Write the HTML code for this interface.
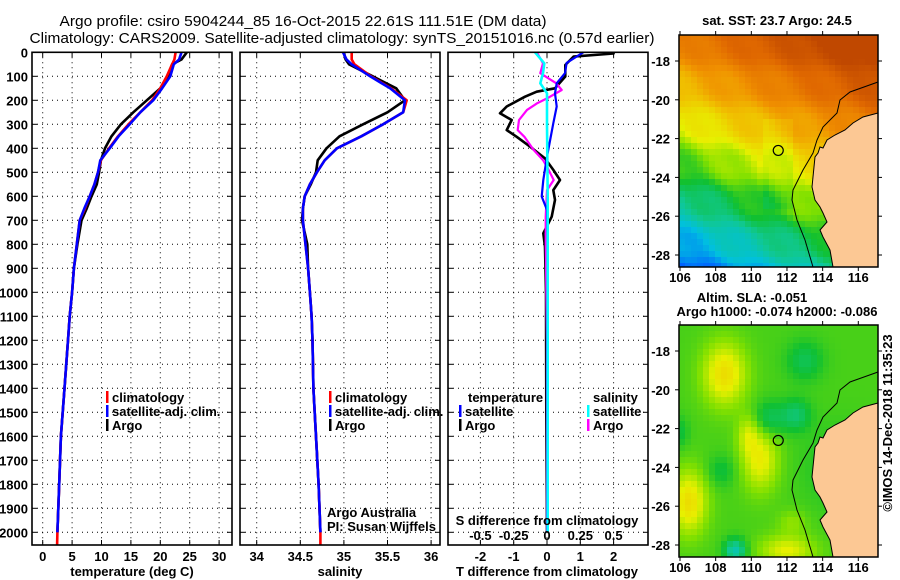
<!DOCTYPE html>
<html><head><meta charset="utf-8">
<style>
html,body{margin:0;padding:0;background:#fff;}
svg{display:block;font-family:"Liberation Sans",sans-serif;}
.t{font-weight:bold;font-size:13px;fill:#000;}
</style></head>
<body>
<svg id="fig" width="900" height="580" viewBox="0 0 900 580" xmlns="http://www.w3.org/2000/svg">
<text x="303" y="26" text-anchor="middle" font-size="15" textLength="487" lengthAdjust="spacingAndGlyphs">Argo profile: csiro 5904244_85 16-Oct-2015 22.61S 111.51E (DM data)</text>
<text x="342" y="43" text-anchor="middle" font-size="15" textLength="625" lengthAdjust="spacingAndGlyphs">Climatology: CARS2009. Satellite-adjusted climatology: synTS_20151016.nc (0.57d earlier)</text>
</svg>
<script>
// ---------- data ----------
const depthProf = [0,30,50,100,150,200,250,300,350,400,450,500,550,600,650,700,800,900,1000,1100,1200,1400,1600,1800,2000];
const climT = [22.6,22.4,22.0,21.1,20.0,18.6,16.6,14.6,12.8,11.3,9.9,9.4,8.8,8.0,7.2,6.3,5.8,5.3,5.0,4.6,4.3,3.7,3.1,2.8,2.5];
const satT  = [23.6,23.2,22.3,21.7,20.3,18.8,16.6,14.8,12.9,11.4,9.8,9.4,8.8,8.0,7.1,6.3,5.8,5.3,5.0,4.6,4.3,3.7,3.1,2.8,2.5];
const argoT = [24.5,23.6,22.0,21.3,20.0,17.7,15.4,13.3,11.7,10.6,9.9,9.6,9.2,8.3,7.5,6.6,5.9,5.3,5.0,4.6,4.3,3.7,3.1,2.8,2.5];
const climS = [35.09,35.09,35.12,35.31,35.54,35.72,35.68,35.45,35.20,34.92,34.78,34.69,34.61,34.55,34.53,34.53,34.56,34.59,34.61,34.63,34.64,34.65,34.68,34.71,34.73];
const satS  = [34.99,35.03,35.09,35.30,35.53,35.70,35.68,35.45,35.20,34.92,34.78,34.69,34.61,34.55,34.53,34.53,34.56,34.59,34.61,34.63,34.64,34.65,34.68,34.71,34.73];
const argoS = [35.00,35.02,35.06,35.33,35.60,35.70,35.50,35.22,34.95,34.80,34.70,34.68,34.62,34.55,34.53,34.52,34.58,34.59,34.61,34.63,34.64,34.65,34.68,34.71,34.73];
const climDeepDepth = [2000,2053];
const climDeepT = [2.5,2.45];
const climDeepS = [34.73,34.73];
const dTArgoDepth = [0,5,18,53,101,150,164,185,226,254,282,324,352,393,442,490,532,574,615,685,754,810,1000,1500,2000];
const dTArgo = [2.0,2.0,0.8,0.55,0.55,0.24,-0.31,-0.66,-1.21,-1.41,-1.06,-1.21,-0.91,-0.51,-0.06,0.19,0.39,0.19,0.24,0.14,-0.11,-0.06,-0.03,-0.02,0];
const dTSatDepth = [0,44,87,129,171,226,296,435,532,601,657,800,1200,2000];
const dTSat = [1.09,0.59,0.54,0.29,0.24,0.29,0.19,0,-0.11,-0.16,0,0.02,0.01,0.01];
const dSArgoDepth = [0,46,87,129,157,192,213,240,282,324,352,407,449,477,532,574,685,782,1200,2000];
const dSArgo = [-0.076,-0.03,-0.05,0.07,0.11,0,-0.076,-0.15,-0.21,-0.22,-0.17,-0.10,-0.03,0,0.05,0,-0.01,-0.01,0,0];
const dSSatDepth = [0,46,87,129,171,300,600,1000,2000];
const dSSat = [-0.09,-0.02,-0.03,-0.05,0,0,0.005,0.005,0.005];
const depthTicks = [0,100,200,300,400,500,600,700,800,900,1000,1100,1200,1300,1400,1500,1600,1700,1800,1900,2000];
const tTicks = [0,5,10,15,20,25,30];
const sTicks = [34,34.5,35,35.5,36];
const dTTicks = [-2,-1,0,1,2];
const dSTicks = [-0.5,-0.25,0,0.25,0.5];
const dSTickLabels = ['-0.5','-0.25','0','0.25','0.5'];
const latTicks = [-18,-20,-22,-24,-26,-28];
const lonTicks = [106,108,110,112,114,116];
const argoLon = 111.51, argoLat = -22.61;

const NS='http://www.w3.org/2000/svg';
const svg=document.getElementById('fig');
function mk(tag,attrs,parent){const e=document.createElementNS(NS,tag);for(const k in attrs)e.setAttribute(k,attrs[k]);(parent||svg).appendChild(e);return e;}

const PT=52.3, PB=545;
const yD = d => PT + d*0.2400;
const xT = v => 42.7 + v*5.88;
const xS = v => 256.7 + (v-34)*87.2;
const xdT = v => 547 + v*33.3;
const xdS = v => 547 + v*133.2;

const panels=[{x0:32,x1:232,name:'temperature-panel'},{x0:240,x1:440,name:'salinity-panel'},{x0:448,x1:648,name:'difference-panel'}];
function gridPanel(p,xticks,xfn){
  const g=mk('g',{});
  
  
  depthTicks.forEach(d=>{
    const l=mk('line',{x1:p.x0,x2:p.x1,y1:yD(d),y2:yD(d),stroke:'#000','stroke-width':1,'stroke-dasharray':'1,4'},g);
    
    
    mk('line',{x1:p.x0,x2:p.x0+5,y1:yD(d),y2:yD(d),stroke:'#000'},g);
    mk('line',{x1:p.x1-5,x2:p.x1,y1:yD(d),y2:yD(d),stroke:'#000'},g);
  });
  xticks.forEach(v=>{
    const x=xfn(v);
    const l=mk('line',{x1:x,x2:x,y1:PT,y2:PB,stroke:'#000','stroke-width':1,'stroke-dasharray':'1,4'},g);
    
    
    mk('line',{x1:x,x2:x,y1:PT,y2:PT+5,stroke:'#000'},g);
    mk('line',{x1:x,x2:x,y1:PB-5,y2:PB,stroke:'#000'},g);
  });
  return g;
}
function frame(p){
  const r=mk('rect',{x:p.x0,y:PT,width:p.x1-p.x0,height:PB-PT,fill:'none',stroke:'#000','stroke-width':1.6});
  
  
}
function line(depths,vals,xfn,color,name,w){
  let dstr='';
  for(let i=0;i<depths.length;i++){dstr+=(i?'L':'M')+xfn(vals[i]).toFixed(1)+','+yD(depths[i]).toFixed(1);}
  const p=mk('path',{d:dstr,fill:'none',stroke:color,'stroke-width':w||2.6,'stroke-linejoin':'round'});
  
  
}
function label(x,y,txt,anchor,name,cls,extra){
  const t=mk('text',Object.assign({x:x,y:y,'text-anchor':anchor||'start',class:cls||'t'},extra||{}));
  t.textContent=txt;
  
  
  return t;
}

gridPanel(panels[0],tTicks,xT);
gridPanel(panels[1],sTicks,xS);
gridPanel(panels[2],dTTicks,xdT);

depthTicks.forEach(d=>{label(28,yD(d)+5,String(d),'end','y-tick-label');});

line(climDeepDepth,climDeepT,xT,'#ff0000','climatology-temperature-deep');
line(depthProf,argoT,xT,'#000','argo-temperature-line');
line(depthProf,climT,xT,'#ff0000','climatology-temperature-line');
line(depthProf,satT,xT,'#0000ff','satellite-temperature-line');
line(climDeepDepth,climDeepS,xS,'#ff0000','climatology-salinity-deep');
line(depthProf,argoS,xS,'#000','argo-salinity-line');
line(depthProf,climS,xS,'#ff0000','climatology-salinity-line');
line(depthProf,satS,xS,'#0000ff','satellite-salinity-line');
line(dTArgoDepth,dTArgo,xdT,'#000','argo-temperature-difference');
line(dSArgoDepth,dSArgo,xdS,'#ff00ff','argo-salinity-difference',2.2);
line(dTSatDepth,dTSat,xdT,'#0000ff','satellite-temperature-difference',2.2);
line(dSSatDepth,dSSat,xdS,'#00ffff','satellite-salinity-difference',2.6);

panels.forEach(frame);

tTicks.forEach(v=>label(xT(v),561,String(v),'middle','x-tick-label-temperature'));
sTicks.forEach(v=>label(xS(v),561,String(v),'middle','x-tick-label-salinity'));
dTTicks.forEach(v=>label(xdT(v),561,String(v),'middle','x-tick-label-t-difference'));
dSTicks.forEach((v,i)=>label(xdS(v),540,dSTickLabels[i],'middle','x-tick-label-s-difference'));
label(132,576,'temperature (deg C)','middle','x-axis-title-temperature');
label(340,576,'salinity','middle','x-axis-title-salinity');
label(547,576,'T difference from climatology','middle','x-axis-title-t-difference');
label(547,525,'S difference from climatology','middle','x-axis-title-s-difference');

function legendEntry(x,y,color,txt){
  const g=mk('g',{});
  
  
  mk('rect',{x:x,y:y-11,width:2.5,height:12,fill:color},g);
  const t=mk('text',{x:x+6,y:y,class:'t'},g);t.textContent=txt;
}
[['#ff0000','climatology'],['#0000ff','satellite-adj. clim.'],['#000','Argo']].forEach((e,i)=>{
  legendEntry(106,402+i*14,e[0],e[1]);
  legendEntry(329,402+i*14,e[0],e[1]);
});
label(468,402,'temperature','start','legend-title-temperature');
legendEntry(459,416,'#0000ff','satellite');
legendEntry(459,430,'#000','Argo');
label(593,402,'salinity','start','legend-title-salinity');
legendEntry(587,416,'#00ffff','satellite');
legendEntry(587,430,'#ff00ff','Argo');
label(327,517,'Argo Australia','start','credit-line-1','',{'font-size':'12','fill':'#000'});
label(327,531,'PI: Susan Wijffels','start','credit-line-2','',{'font-size':'12','fill':'#000'});

// ---------- maps ----------
const MX0=679, MX1=878;
const lonX = lon => 680 + (lon-106)*17.83;
function cmap(v){
  const st=[[0,[0,16,160]],[0.12,[0,96,255]],[0.22,[0,192,224]],[0.32,[16,200,144]],[0.4,[16,192,48]],[0.48,[128,224,0]],[0.56,[232,240,0]],[0.66,[240,192,0]],[0.76,[240,144,0]],[0.88,[224,104,0]],[1,[192,72,0]]];
  v=Math.max(0,Math.min(1,v));
  for(let i=1;i<st.length;i++){if(v<=st[i][0]){const a=st[i-1],b=st[i];const f=(v-a[0])/(b[0]-a[0]);return 'rgb('+a[1].map((c,k)=>Math.round(c+(b[1][k]-c)*f)).join(',')+')';}}
  return 'rgb(192,72,0)';
}
function gauss(lon,lat,c){return c[2]*Math.exp(-(((lon-c[0])/c[3])**2+((lat-c[1])/c[4])**2));}
const slaBlobs=[[108.5,-19.2,0.16,1.2,1.6],[110.5,-23.6,0.13,1.0,1.6],[106.5,-25.8,0.16,1.0,1.6],[112,-28.3,0.12,1.5,0.8],[109.8,-22.3,0.08,0.6,1.0],[112.3,-26.8,0.05,0.8,0.6],
 [113,-18.5,-0.07,1.0,1.0],[111,-21.5,-0.08,0.9,0.9],[112.5,-21.3,-0.09,0.8,0.8],[109.1,-28.3,-0.16,0.6,0.6],[108.3,-24.2,-0.05,0.8,0.8],[106,-22.2,-0.05,0.5,0.8],[115,-24,-0.04,2,2]];
const coast=[[878,113],[863,117],[853,123],[845,130],[835,135],[827,140],[823,148],[820,147],[818,153],[815,157],[813,177],[812,187],[815,200],[820,207],[823,213],[827,222],[820,230],[823,237],[830,250],[833,267],[878,267]];
const shelf=[[878,82],[850,92],[840,100],[837,113],[823,127],[817,140],[813,153],[803,170],[793,190],[792,200],[797,220],[805,240],[813,267]];
function drawMap(top,kind,name){
  const g=mk('g',{});
  
  
  const latY = lat => top+26 + (-18-lat)*19.4;
  const cs=6;
  for(let y=top;y<top+232;y+=cs){for(let x=MX0;x<MX1;x+=cs){
    const lon=106+(x+3-680)/17.83, lat=-18-(y+3-top-26)/19.4;
    let v;
    if(kind==='sst'){v=0.58+0.06*(lat+22.5)+0.025*(lon-110)+0.02*Math.sin(lon*2.3+lat*1.7)+0.015*Math.sin(lat*3.1);
      if(lon>110.5&&lon<112.5&&lat<-21&&lat>-25.5)v-=0.03;}
    else{v=0.44;slaBlobs.forEach(b=>v+=gauss(lon,lat,b));}
    mk('rect',{x:x,y:y,width:Math.min(cs,MX1-x),height:Math.min(cs,top+232-y),fill:cmap(v)},g);
  }}
  const pts=coast.map(p=>p[0]+','+(p[1]-35+top)).join(' ');
  const land=mk('polygon',{points:pts,fill:'#fcc894',stroke:'#000','stroke-width':1},g);
  
  
  const sh=mk('polyline',{points:shelf.map(p=>p[0]+','+(p[1]-35+top)).join(' '),fill:'none',stroke:'#000','stroke-width':1},g);
  
  
  const c=mk('circle',{cx:lonX(argoLon),cy:latY(argoLat),r:5,fill:'none',stroke:'#000','stroke-width':1.2},g);
  
  
  const fr=mk('rect',{x:MX0,y:top,width:MX1-MX0,height:232,fill:'none',stroke:'#000','stroke-width':1.5},g);
  
  
  latTicks.forEach(l=>{const y=latY(l);
    mk('line',{x1:MX0-4,x2:MX0,y1:y,y2:y,stroke:'#000'},g);mk('line',{x1:MX1,x2:MX1+4,y1:y,y2:y,stroke:'#000'},g);
    label(670,y+5,String(l),'end','map-lat-label');});
  lonTicks.forEach(l=>{const x=lonX(l);
    mk('line',{x1:x,x2:x,y1:top-4,y2:top,stroke:'#000'},g);mk('line',{x1:x,x2:x,y1:top+232,y2:top+236,stroke:'#000'},g);
    label(x,top+247,String(l),'middle','map-lon-label');});
}
drawMap(35,'sst','sst-map');
drawMap(325,'sla','sla-map');
label(777,25,'sat. SST: 23.7 Argo: 24.5','middle','sst-map-title');
label(752,302,'Altim. SLA: -0.051','middle','sla-map-title');
label(777,316,'Argo h1000: -0.074 h2000: -0.086','middle','sla-map-subtitle');
label(892,423,'©IMOS 14-Dec-2018 11:35:23','middle','imos-timestamp','',{'font-size':'13','fill':'#000',transform:'rotate(-90 892 423)'});
</script>
</body></html>
